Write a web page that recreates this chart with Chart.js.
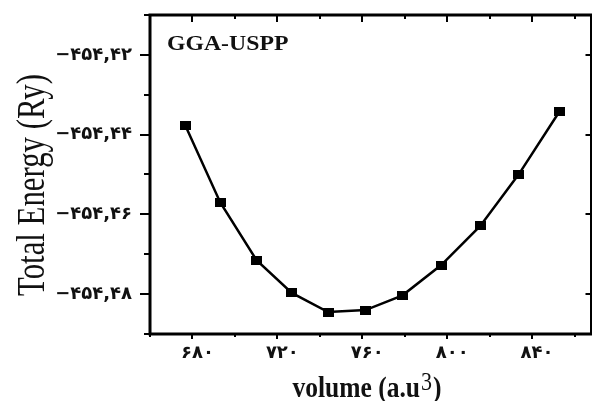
<!DOCTYPE html>
<html>
<head>
<meta charset="utf-8">
<script src="https://cdn.jsdelivr.net/npm/chart.js@4"></script>
<style>
    html, body { margin: 0; padding: 0; background: #fff; overflow: hidden; }
    #wrap { width: 592px; height: 401px; overflow: hidden; }
</style>
</head>
<body>
<div id="wrap"><canvas id="energy-chart" width="600" height="401"></canvas></div>
<script>
// E(V) curve, GGA-USPP
const volumes = [676.7, 693.1, 710.2, 726.8, 743.9, 761.5, 779.0, 797.2, 815.6, 833.8, 852.9];
const energies = [-454.4378, -454.4570, -454.4715, -454.4797, -454.4845, -454.4840,
                  -454.4803, -454.4727, -454.4629, -454.4499, -454.4342];
const volumeTicks = [680, 720, 760, 800, 840];
const energyTicks = [-454.42, -454.44, -454.46, -454.48];
const seriesLabel = 'GGA-USPP';
const xTitle = ['volume (a.u', '3', ')'];
const yTitle = 'Total Energy (Ry)';

const TEXT = '#111';

function toPersianDigits(text) {
    return text.replace(/[0-9]/g, d => '۰۱۲۳۴۵۶۷۸۹'[d]).replace('.', ',').replace('-', '−');
}

// small filled rectangle used as the point marker
function makeMarker(w, h) {
    const c = document.createElement('canvas');
    c.width = w;
    c.height = h;
    const g = c.getContext('2d');
    g.fillStyle = '#000';
    g.fillRect(0, 0, w, h);
    return c;
}

// text drawn with a horizontal squeeze / stretch
function drawScaledText(ctx, text, x, y, font, sx, angle) {
    ctx.save();
    ctx.translate(x, y);
    ctx.rotate(angle || 0);
    ctx.scale(sx, 1);
    ctx.font = font;
    ctx.fillStyle = TEXT;
    ctx.textAlign = 'left';
    ctx.textBaseline = 'alphabetic';
    ctx.fillText(text, 0, 0);
    ctx.restore();
}

const framePlugin = {
    id: 'frame',
    afterDraw(chart) {
        const ctx = chart.ctx;
        const { left, right, top, bottom } = chart.chartArea;
        const xs = chart.scales.x;
        const ys = chart.scales.y;

        ctx.save();
        ctx.strokeStyle = '#000';
        ctx.lineWidth = 3;
        ctx.strokeRect(left, top, right - left, bottom - top);

        ctx.lineWidth = 2;
        ctx.beginPath();
        // x ticks every 20, labelled every 40
        for (let v = xs.min; v <= xs.max; v += 20) {
            const px = Math.round(xs.getPixelForValue(v));
            const major = volumeTicks.includes(v);
            ctx.moveTo(px, top);
            ctx.lineTo(px, top + (major ? 7 : 4));
            ctx.moveTo(px, bottom);
            ctx.lineTo(px, bottom + (major ? 5 : 3));
        }
        // y ticks every 0.01, labelled every 0.02
        for (let i = 0; i <= 8; i++) {
            const v = ys.min + i * 0.01;
            const py = Math.round(ys.getPixelForValue(v));
            const major = energyTicks.some(t => Math.abs(t - v) < 1e-6);
            ctx.moveTo(left, py);
            ctx.lineTo(left - (major ? 10 : 6), py);
            if (major) {
                ctx.moveTo(right, py);
                ctx.lineTo(right - 6, py);
            }
        }
        ctx.stroke();
        ctx.restore();

        // series label inside the frame
        drawScaledText(ctx, seriesLabel, 167, 50, 'bold 22px "Liberation Serif"', 1.08);

        // y axis title
        ctx.save();
        ctx.font = '39px "Liberation Serif"';
        const yw = ctx.measureText(yTitle).width * 0.79;
        ctx.restore();
        drawScaledText(ctx, yTitle, 44, 185 + yw / 2, '39px "Liberation Serif"', 0.79, -Math.PI / 2);

        // x axis title with raised exponent
        const fMain = 'bold 29px "Liberation Serif"';
        const fSup = '25px "Liberation Serif"';
        const sx = 0.88;
        ctx.save();
        ctx.font = fMain;
        const w0 = ctx.measureText(xTitle[0]).width * sx;
        const w2 = ctx.measureText(xTitle[2]).width * sx;
        ctx.font = fSup;
        const w1 = ctx.measureText(xTitle[1]).width * sx;
        ctx.restore();
        let x0 = 366 - (w0 + w1 + w2) / 2;
        drawScaledText(ctx, xTitle[0], x0, 397, fMain, sx);
        drawScaledText(ctx, xTitle[1], x0 + w0 + 1, 390, fSup, sx);
        drawScaledText(ctx, xTitle[2], x0 + w0 + w1 + 2, 397, fMain, sx);
    }
};

document.addEventListener('DOMContentLoaded', function() {
    const points = volumes.map((v, i) => ({ x: v, y: energies[i] }));
    const tickFont = { family: '"DejaVu Sans"', size: 18, weight: 'bold' };

    new Chart(document.getElementById('energy-chart'), {
        type: 'scatter',
        data: {
            datasets: [{
                label: seriesLabel,
                data: points,
                showLine: true,
                borderColor: '#000',
                borderWidth: 2.5,
                backgroundColor: '#000',
                pointStyle: makeMarker(11, 9),
                pointRadius: 6
            }]
        },
        options: {
            responsive: false,
            animation: false,
            layout: { padding: { top: 15, right: 4, left: 0, bottom: 0 } },
            plugins: {
                legend: { display: false },
                tooltip: { enabled: false }
            },
            scales: {
                x: {
                    type: 'linear',
                    min: 660,
                    max: 868,
                    afterBuildTicks: s => { s.ticks = volumeTicks.map(v => ({ value: v })); },
                    afterFit: s => { s.height = 67; s.paddingLeft = 0; s.paddingRight = 0; },
                    grid: { display: false, drawTicks: false },
                    border: { display: false },
                    ticks: {
                        padding: 9,
                        labelOffset: 5,
                        color: TEXT,
                        font: tickFont,
                        maxRotation: 0,
                        autoSkip: false,
                        callback: v => toPersianDigits(String(v))
                    }
                },
                y: {
                    min: -454.49,
                    max: -454.41,
                    afterBuildTicks: s => { s.ticks = energyTicks.map(v => ({ value: v })); },
                    afterFit: s => { s.width = 150; s.paddingTop = 0; s.paddingBottom = 0; },
                    grid: { display: false, drawTicks: false },
                    border: { display: false },
                    ticks: {
                        padding: 18,
                        color: TEXT,
                        font: tickFont,
                        autoSkip: false,
                        callback: v => toPersianDigits(v.toFixed(2))
                    }
                }
            }
        },
        plugins: [framePlugin]
    });
});
</script>
</body>
</html>
